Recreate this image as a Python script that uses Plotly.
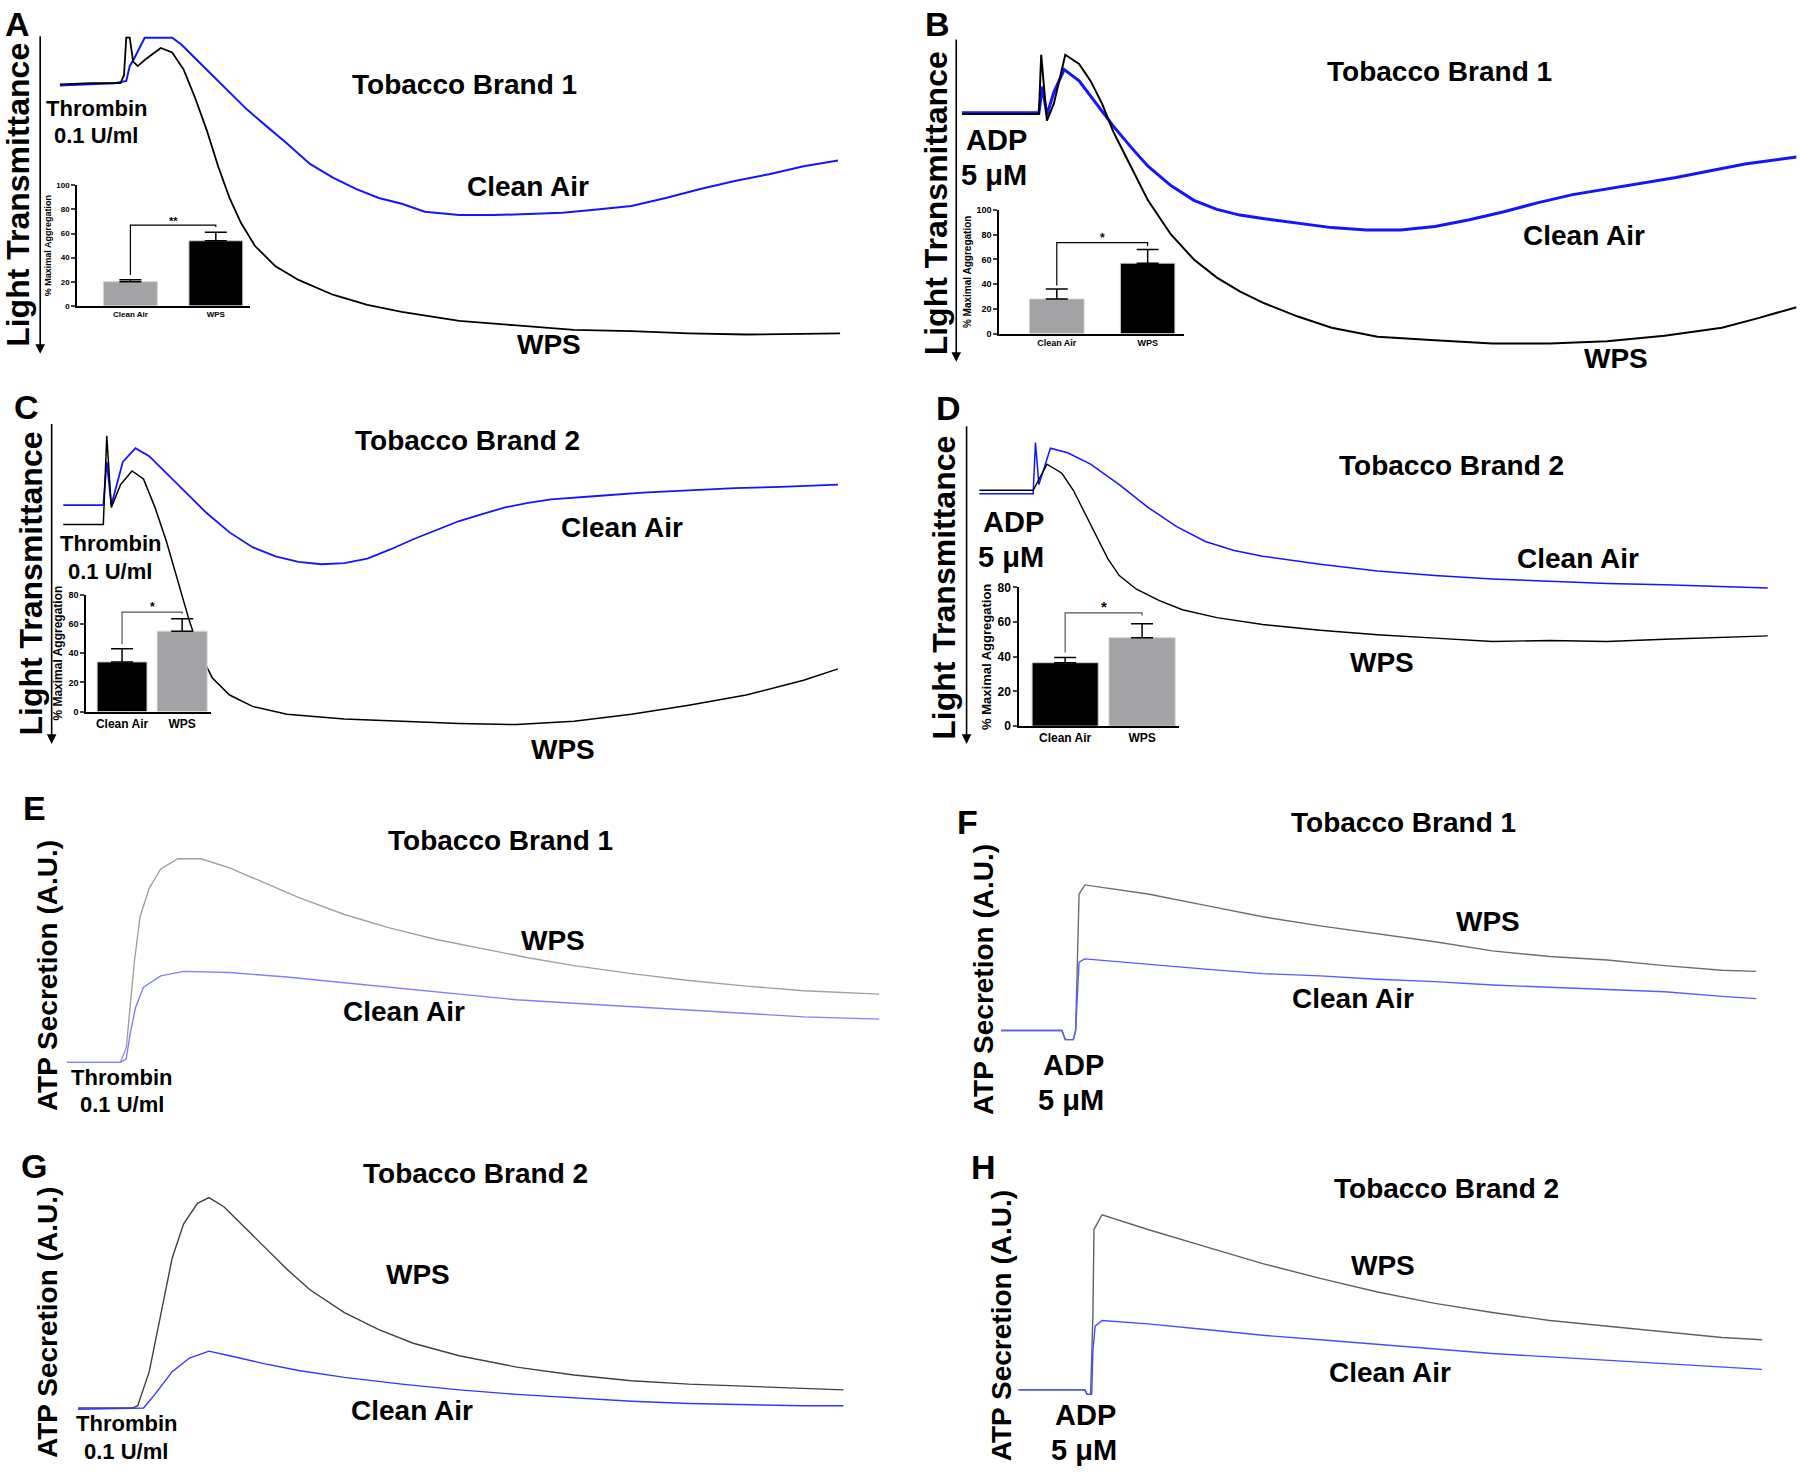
import plotly.graph_objects as go

W, H = 1800, 1481
SW, SH = 1568, 1290  # reading grid used for layout placement

# ---------------- Data (arbitrary units: time t, signal s) ----------------
# Panel A - aggregation, Thrombin, Brand 1
A_t_wps = [0, 28, 53, 56, 58, 61, 64, 68, 76, 88, 98, 108, 118, 128, 138, 148, 158, 170, 188, 208, 238, 268, 298, 348, 398, 448, 498, 548, 598, 648, 680]
A_wps = [227, 228, 228, 235, 268, 268, 247, 243, 250, 259, 255, 240, 215, 187, 155, 127, 105, 85, 67, 55, 42, 33, 27, 19, 15, 11, 10, 8, 7, 8, 8]
A_t_ca = [0, 48, 58, 61, 65, 70, 74, 98, 106, 118, 133, 148, 163, 178, 198, 218, 238, 258, 278, 298, 318, 348, 378, 408, 438, 468, 498, 528, 558, 588, 618, 648, 678]
A_ca = [226, 228, 230, 243, 250, 260, 268, 268, 262, 250, 235, 220, 205, 192, 175, 157, 145, 135, 127, 122, 115, 112, 112, 113, 114, 117, 120, 127, 135, 142, 148, 155, 160]

# Panel B - aggregation, ADP, Brand 1
B_t_wps = [0, 67, 69, 74, 80, 90, 102, 112, 122, 132, 147, 162, 182, 202, 222, 242, 262, 292, 322, 362, 412, 462, 512, 562, 612, 662, 692, 727]
B_wps = [206, 206, 258, 200, 215, 258, 250, 235, 215, 190, 160, 130, 100, 78, 62, 50, 40, 28, 18, 10, 7, 4, 4, 6, 11, 18, 26, 36]
B_t_ca = [0, 67, 70, 74, 80, 89, 102, 117, 132, 147, 162, 182, 202, 222, 242, 262, 292, 322, 352, 382, 412, 442, 472, 502, 532, 562, 592, 622, 652, 682, 727]
B_ca = [207, 207, 230, 205, 225, 245, 235, 215, 195, 177, 160, 143, 130, 122, 117, 114, 110, 106, 104, 104, 107, 113, 120, 128, 135, 140, 145, 150, 156, 162, 168]

# Panel C - aggregation, Thrombin, Brand 2
C_t_wps = [0, 35, 38, 42, 50, 60, 70, 80, 90, 100, 110, 120, 130, 145, 165, 195, 245, 295, 345, 395, 445, 495, 545, 595, 645, 675]
C_wps = [180, 180, 258, 195, 215, 227, 220, 195, 165, 130, 95, 65, 45, 30, 20, 13, 9, 7, 5, 4, 7, 13, 21, 30, 43, 53]
C_t_ca = [0, 35, 38, 42, 52, 63, 75, 90, 105, 125, 145, 165, 185, 205, 225, 245, 265, 285, 305, 325, 345, 365, 385, 405, 425, 465, 505, 545, 585, 625, 675]
C_ca = [197, 197, 235, 197, 235, 247, 240, 225, 210, 190, 173, 160, 152, 147, 145, 146, 150, 158, 167, 175, 183, 189, 195, 199, 202, 205, 208, 210, 212, 213, 215]

# Panel D - aggregation, ADP, Brand 2
D_t_wps = [0, 47, 59, 72, 82, 92, 102, 112, 122, 137, 157, 177, 207, 247, 297, 347, 397, 447, 497, 547, 597, 647, 687]
D_wps = [175, 175, 198, 190, 175, 155, 135, 115, 100, 88, 78, 70, 63, 57, 52, 48, 45, 42, 43, 42, 44, 46, 47]
D_t_ca = [0, 47, 49, 52, 62, 77, 97, 122, 147, 172, 197, 222, 247, 297, 347, 397, 447, 497, 547, 597, 647, 687]
D_ca = [172, 172, 217, 180, 212, 208, 198, 180, 160, 143, 130, 122, 117, 110, 104, 100, 97, 95, 93, 92, 90, 89]

# Panel E - ATP secretion, Thrombin, Brand 1
E_t_wps = [0, 47, 52, 55, 59, 64, 72, 82, 97, 117, 142, 172, 202, 242, 282, 322, 362, 402, 442, 492, 542, 592, 642, 708]
E_wps = [2, 2, 15, 50, 90, 130, 155, 172, 181, 181, 173, 160, 147, 132, 120, 110, 102, 94, 87, 80, 74, 69, 65, 62]
E_t_ca = [0, 47, 52, 55, 60, 67, 82, 102, 142, 192, 242, 292, 342, 392, 442, 492, 542, 592, 642, 708]
E_ca = [2, 2, 5, 25, 50, 68, 78, 82, 81, 77, 72, 67, 62, 57, 54, 51, 48, 45, 42, 40]

# Panel F - ATP secretion, ADP, Brand 1
F_t = [0, 53, 56, 63, 65, 68, 73, 128, 178, 228, 278, 328, 378, 428, 478, 528, 578, 628, 658]
F_wps = [12, 12, 4, 4, 12, 132, 140, 132, 122, 112, 104, 97, 90, 82, 77, 74, 69, 65, 64]
F_ca = [12, 12, 4, 4, 12, 72, 75, 70, 66, 62, 60, 57, 55, 52, 50, 48, 46, 42, 40]

# Panel G - ATP secretion, Thrombin, Brand 2
G_t_wps = [0, 47, 52, 62, 72, 82, 92, 104, 114, 127, 142, 162, 182, 202, 232, 262, 292, 332, 382, 432, 482, 532, 582, 632, 667]
G_wps = [3, 3, 5, 35, 85, 135, 165, 183, 188, 180, 165, 145, 125, 107, 87, 72, 60, 49, 39, 32, 27, 24, 22, 20, 19]
G_t_ca = [0, 57, 67, 82, 97, 114, 132, 162, 192, 232, 282, 332, 382, 432, 482, 532, 582, 632, 667]
G_ca = [2, 3, 15, 35, 47, 53, 49, 42, 36, 30, 24, 19, 15, 12, 9, 7, 6, 5, 5]

# Panel H - ATP secretion, ADP, Brand 2
H_t_wps = [0, 58, 60, 63, 65, 66, 73, 113, 163, 213, 263, 313, 363, 413, 463, 513, 563, 613, 648]
H_wps = [6, 6, 2, 2, 70, 147, 160, 147, 132, 117, 104, 92, 82, 74, 67, 62, 57, 52, 50]
H_t_ca = [0, 58, 60, 64, 65, 67, 73, 113, 163, 213, 263, 313, 363, 413, 463, 513, 563, 613, 648]
H_ca = [6, 6, 2, 2, 40, 62, 67, 64, 59, 54, 50, 46, 42, 38, 35, 32, 29, 26, 24]

# Inset bar charts: % maximal aggregation (mean, SEM), bracket heights, star
bar_cats = ["Clean Air", "WPS"]
A_bar = [20, 54]; A_err = [1.6, 7]
B_bar = [28, 57]; B_err = [8, 11]
C_bar = [34, 55]; C_err = [9, 8.5]
D_bar = [36.6, 51]; D_err = [3, 8]
A_brk = [25.5, 67, 65.5]; A_sig = "**"
B_brk = [39, 73.6, 71]; B_sig = "*"
C_brk = [46, 68, 67]; C_sig = "*"
D_brk = [42.5, 65.3, 63.8]; D_sig = "*"

# ---------------- Layout helpers ----------------
FONT = "Liberation Sans, Arial, sans-serif"
BLUE = "#1414ff"

fig = go.Figure()
layout = dict(width=W, height=H, margin=dict(l=0, r=0, t=0, b=0),
              paper_bgcolor="white", plot_bgcolor="rgba(0,0,0,0)",
              showlegend=False, annotations=[], shapes=[])


def axkey(i, k):
    return f"{k}axis" + ("" if i == 1 else str(i))


def axref(i, k):
    return k + ("" if i == 1 else str(i))


def trace_panel(i, box, series):
    x0, x1, yt, yb = box
    layout[axkey(i, "x")] = dict(domain=[x0 / SW, x1 / SW], range=[0, x1 - x0], visible=False,
                                 anchor=axref(i, "y"))
    layout[axkey(i, "y")] = dict(domain=[1 - yb / SH, 1 - yt / SH], range=[0, yb - yt], visible=False,
                                 anchor=axref(i, "x"))
    for t, s, col, w in series:
        fig.add_trace(go.Scatter(x=t, y=s, mode="lines", line=dict(color=col, width=w),
                                 xaxis=axref(i, "x"), yaxis=axref(i, "y"), hoverinfo="skip"))


def inset(i, xdom, ydom, xr, ymax, bw, vals, errs, cols, brk, sig, tfs, cfs, yfs, dtick, brcol):
    layout[axkey(i, "x")] = dict(domain=[xdom[0] / W, xdom[1] / W], range=xr, anchor=axref(i, "y"),
                                 showline=True, linecolor="black", linewidth=1.5, ticks="",
                                 tickvals=[0, 1], ticktext=bar_cats, showgrid=False, zeroline=False,
                                 tickfont=dict(family=FONT, size=cfs, color="black", weight="bold"))
    layout[axkey(i, "y")] = dict(domain=[1 - ydom[0] / H, 1 - ydom[1] / H], range=[0, ymax], anchor=axref(i, "x"),
                                 showline=True, linecolor="black", linewidth=1.5, ticks="outside",
                                 ticklen=4, tickwidth=1.5, dtick=dtick, showgrid=False, zeroline=False,
                                 tickfont=dict(family=FONT, size=tfs, color="black", weight="bold"),
                                 title=dict(text="% Maximal Aggregation", standoff=3,
                                            font=dict(family=FONT, size=yfs, color="black", weight="bold")))
    fig.add_trace(go.Bar(x=[0, 1], y=vals, width=bw, marker=dict(color=cols, line=dict(color="#d0d0d0", width=1)),
                         error_y=dict(type="data", symmetric=False, array=errs, arrayminus=[0, 0],
                                      color="black", thickness=1.5, width=11),
                         xaxis=axref(i, "x"), yaxis=axref(i, "y"), hoverinfo="skip"))
    layout["shapes"].append(dict(type="path", xref=axref(i, "x"), yref=axref(i, "y"),
                                 path=f"M 0,{brk[0]} L 0,{brk[1]} L 1,{brk[1]} L 1,{brk[2]}",
                                 line=dict(color=brcol, width=1.2)))
    layout["annotations"].append(dict(x=0.5, y=brk[1], xref=axref(i, "x"), yref=axref(i, "y"),
                                      text=sig, showarrow=False, yanchor="bottom", yshift=-4,
                                      font=dict(family=FONT, size=tfs + 3, color="black", weight="bold")))


def txt(s, xs, ys, size, angle=0):
    layout["annotations"].append(dict(x=xs / SW, y=1 - ys / SH, xref="paper", yref="paper", text=s,
                                      showarrow=False, xanchor="center", yanchor="middle", textangle=angle,
                                      font=dict(family=FONT, size=size, color="black", weight="bold")))


def down_arrow(xs, ytop, ybot):
    layout["annotations"].append(dict(x=xs / SW, y=1 - ybot / SH, xref="paper", yref="paper", text="",
                                      showarrow=True, ax=0, ay=-(ybot - ytop) * H / SH, arrowhead=2,
                                      arrowsize=1.2, arrowwidth=1.6, arrowcolor="black"))


# ---------------- Trace panels ----------------
trace_panel(1, (52, 732, 25, 295), [(A_t_ca, A_ca, BLUE, 2), (A_t_wps, A_wps, "black", 1.8)])
trace_panel(2, (838, 1565, 40, 300), [(B_t_ca, B_ca, BLUE, 3), (B_t_wps, B_wps, "black", 2)])
trace_panel(3, (55, 730, 375, 635), [(C_t_ca, C_ca, BLUE, 1.8), (C_t_wps, C_wps, "black", 1.5)])
trace_panel(4, (853, 1540, 380, 600), [(D_t_ca, D_ca, BLUE, 1.5), (D_t_wps, D_wps, "black", 1.4)])
trace_panel(5, (58, 766, 745, 930), [(E_t_wps, E_wps, "#a0a0a0", 1.4), (E_t_ca, E_ca, "#8080ff", 1.4)])
trace_panel(6, (872, 1530, 760, 912), [(F_t, F_wps, "#6e6e6e", 1.4), (F_t, F_ca, "#5a5aff", 1.4)])
trace_panel(7, (68, 735, 1040, 1235), [(G_t_wps, G_wps, "#404040", 1.4), (G_t_ca, G_ca, "#3535ff", 1.4)])
trace_panel(8, (887, 1535, 1050, 1222), [(H_t_wps, H_wps, "#606060", 1.4), (H_t_ca, H_ca, "#4a4aff", 1.4)])

# ---------------- Inset bar charts ----------------
GREY = "#a3a3a6"
inset(9, (77, 250), (301.7, 180), [-0.625, 1.40], 100, 0.63, A_bar, A_err, [GREY, "black"],
      A_brk, A_sig, 8, 8, 9, 20, "black")
inset(10, (999, 1184), (329.7, 205), [-0.636, 1.40], 100, 0.6, B_bar, B_err, [GREY, "black"],
      B_brk, B_sig, 9, 9, 10, 20, "black")
inset(11, (86, 211), (711.3, 593.3), [-0.6, 1.48], 80, 0.83, C_bar, C_err, ["black", GREY],
      C_brk, C_sig, 9, 12, 12, 20, "#555555")
inset(12, (1019, 1179), (726, 586), [-0.6, 1.48], 80, 0.86, D_bar, D_err, ["black", GREY],
      D_brk, D_sig, 12, 12, 13, 20, "#555555")

# ---------------- Arrows & text ----------------
down_arrow(35, 27, 305)
down_arrow(833, 30, 312)
down_arrow(45, 368, 648)
down_arrow(842, 370, 648)

for xs, ys in [(15, 165), (815, 173), (27, 507), (822, 511)]:
    txt("Light Transmittance", xs, ys, 32, angle=-90)
for xs, ys in [(42, 852), (857, 855), (42, 1157), (872, 1160)]:
    txt("ATP Secretion (A.U.)", xs, ys, 28, angle=-90)

for s, xs, ys in [("A", 15, 15), ("B", 817, 15), ("C", 23, 352), ("D", 826, 353),
                  ("E", 30, 704), ("F", 843, 717), ("G", 30, 1019), ("H", 857, 1020)]:
    txt(s, xs, ys, 34)

for s, xs, ys in [("Tobacco Brand 1", 405, 68), ("Tobacco Brand 1", 1254, 57),
                  ("Tobacco Brand 2", 407, 381), ("Tobacco Brand 2", 1264, 403),
                  ("Tobacco Brand 1", 436, 733), ("Tobacco Brand 1", 1223, 717),
                  ("Tobacco Brand 2", 414, 1026), ("Tobacco Brand 2", 1260, 1039)]:
    txt(s, xs, ys, 28)

for s, xs, ys in [("Clean Air", 460, 158), ("WPS", 478, 297),
                  ("Clean Air", 1380, 201), ("WPS", 1408, 309),
                  ("Clean Air", 542, 458), ("WPS", 490, 653),
                  ("Clean Air", 1375, 485), ("WPS", 1204, 576),
                  ("WPS", 482, 821), ("Clean Air", 352, 883),
                  ("WPS", 1296, 804), ("Clean Air", 1179, 872),
                  ("WPS", 364, 1115), ("Clean Air", 359, 1234),
                  ("WPS", 1205, 1107), ("Clean Air", 1211, 1201)]:
    txt(s, xs, ys, 28)

for xs, ys in [(84, 89), (96, 472), (106, 941), (110, 1246)]:
    txt("Thrombin", xs, ys, 22)
    txt("0.1 U/ml", xs, ys + 24, 22)

for xs, ys in [(868, 117), (883, 453), (935, 930), (946, 1238)]:
    txt("ADP", xs, ys, 29)
    txt("5 μM", xs - 2, ys + 31, 29)

fig.update_layout(**layout)
fig.write_html("out.html", config={"displayModeBar": False},
               post_script="document.body.style.margin='0px';document.body.style.padding='0px';")
